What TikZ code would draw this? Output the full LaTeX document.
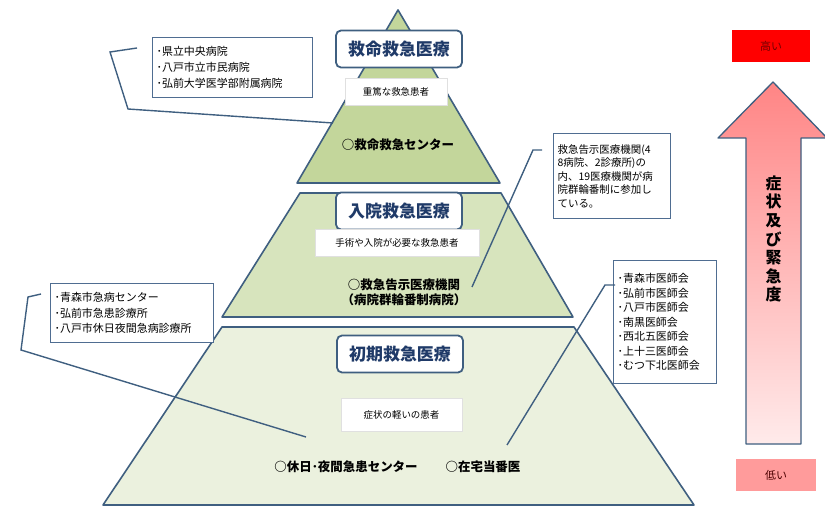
\documentclass[tikz,border=0pt]{standalone}
\usepackage{fontspec}
\newfontfamily\jp{Noto Sans CJK JP}
\usepackage{tikz}
\definecolor{edgeblue}{HTML}{3F5F80}
\definecolor{headblue}{HTML}{1F3A68}
\definecolor{greenA}{HTML}{C3D69B}
\definecolor{greenB}{HTML}{D7E4BD}
\definecolor{greenC}{HTML}{EBF1DE}
\definecolor{notebd}{HTML}{4F6D91}
\definecolor{hired}{HTML}{FF0000}
\definecolor{lowred}{HTML}{FF9B9B}
\tikzset{tier/.style={draw=edgeblue, line width=1.6bp, line join=round},
  level/.style={draw=edgeblue, line width=1.8bp, rounded corners=5bp, fill=white, minimum width=126bp, minimum height=37bp, text=headblue, font=\jp\bfseries\fontsize{17}{20}\selectfont},
  patient/.style={draw=black!12, fill=white, font=\jp\fontsize{9.5}{11}\selectfont},
  facility/.style={font=\jp\bfseries\fontsize{12.5}{15}\selectfont},
  note/.style={draw=notebd, line width=1.2bp, fill=white, anchor=north west, align=left, inner xsep=4bp, inner ysep=4bp, font=\jp\fontsize{11}{16}\selectfont},
  callline/.style={draw=edgeblue, line width=1.4bp},
  tag/.style={minimum width=80bp, minimum height=32bp, font=\jp\fontsize{11}{13}\selectfont}}

\begin{document}
\begin{tikzpicture}[x=1bp, y=-1bp]
      \useasboundingbox (0,0) rectangle (825,507);
      % pyramid
      \filldraw [tier, fill=greenC] (222,327) -- (574,327) -- (694,505) -- (103,505) -- cycle;
      \filldraw [tier, fill=greenB] (300,193) -- (501,193) -- (573,317) -- (222,317) -- cycle;
      \filldraw [tier, fill=greenA] (398,10) -- (500,183) -- (297,183) -- cycle;

      \node [level] (tertiary) at (399,49) {救命救急医療};
      \node [patient, minimum width=102bp, minimum height=27bp] (severe) at (396,91.5) {重篤な救急患者};
      \node [facility] (ccc) at (398,145) {○救命救急センター};

      \node [level] (secondary) at (399,211) {入院救急医療};
      \node [patient, minimum width=164bp, minimum height=27bp] (inpatient) at (397,242.5) {手術や入院が必要な救急患者};
      \node [facility, align=center] (notified) at (404,292) {○救急告示医療機関\\（病院群輪番制病院）};

      \node [level] (primary) at (400,354) {初期救急医療};
      \node [patient, minimum width=121bp, minimum height=33bp] (mild) at (401.5,414.5) {症状の軽いの患者};
      \node [facility] (holiday) at (346,467) {○休日･夜間急患センター};
      \node [facility] (duty) at (483,467) {○在宅当番医};

      % notes
      \node [note, text width=152bp, minimum height=60bp] (hospA) at (152,37) {･県立中央病院\\･八戸市立市民病院\\･弘前大学医学部附属病院};
      \node [note, text width=109bp, minimum height=85bp, inner ysep=3bp, font=\jp\fontsize{10.5}{13.5}\selectfont] (hospB) at (553,133) {救急告示医療機関(4\\8病院、2診療所)の\\内、19医療機関が病\\院群輪番制に参加し\\ている。};
      \node [note, text width=155bp, minimum height=59bp, font=\jp\fontsize{11}{15.5}\selectfont] (hospC) at (50,283) {･青森市急病センター\\･弘前市急患診療所\\･八戸市休日夜間急病診療所};
      \node [note, text width=95bp, minimum height=123bp, font=\jp\fontsize{11}{14.5}\selectfont] (hospD) at (613,260) {･青森市医師会\\･弘前市医師会\\･八戸市医師会\\･南黒医師会\\･西北五医師会\\･上十三医師会\\･むつ下北医師会};

      \coordinate (a1) at (137,48);
      \coordinate (a2) at (333,123);
      \coordinate (b1) at (542,150);
      \coordinate (b2) at (472,287);
      \coordinate (c1) at (41,294);
      \coordinate (c2) at (306,437);
      \coordinate (d1) at (615,285);
      \coordinate (d2) at (507,445);
      \draw [callline] (a1) -- (110,52) -- (128,109) -- (a2);
      \draw [callline] (b1) -- (533,150) -- (b2);
      \draw [callline] (c1) -- (28,297) -- (21,350) -- (c2);
      \draw [callline] (d1) -- (605,285) -- (d2);

      % urgency arrow
      \draw [tier, line width=1.3bp, top color=red!48!white, bottom color=red!8!white] (746,444) -- (746,138) -- (718,138) -- (773,82) -- (827,138) -- (801,138) -- (801,444) -- cycle;
      \node [font=\jp\bfseries\fontsize{16}{18.7}\selectfont, align=center] (urgency) at (773.5,239) {症\\状\\及\\び\\緊\\急\\度};
      \node [tag, fill=hired, minimum width=78bp, text=red!45!black] (high) at (771,46) {高い};
      \node [tag, fill=lowred, text=red!30!black] (low) at (776,475) {低い};
    \end{tikzpicture}
\end{document}
